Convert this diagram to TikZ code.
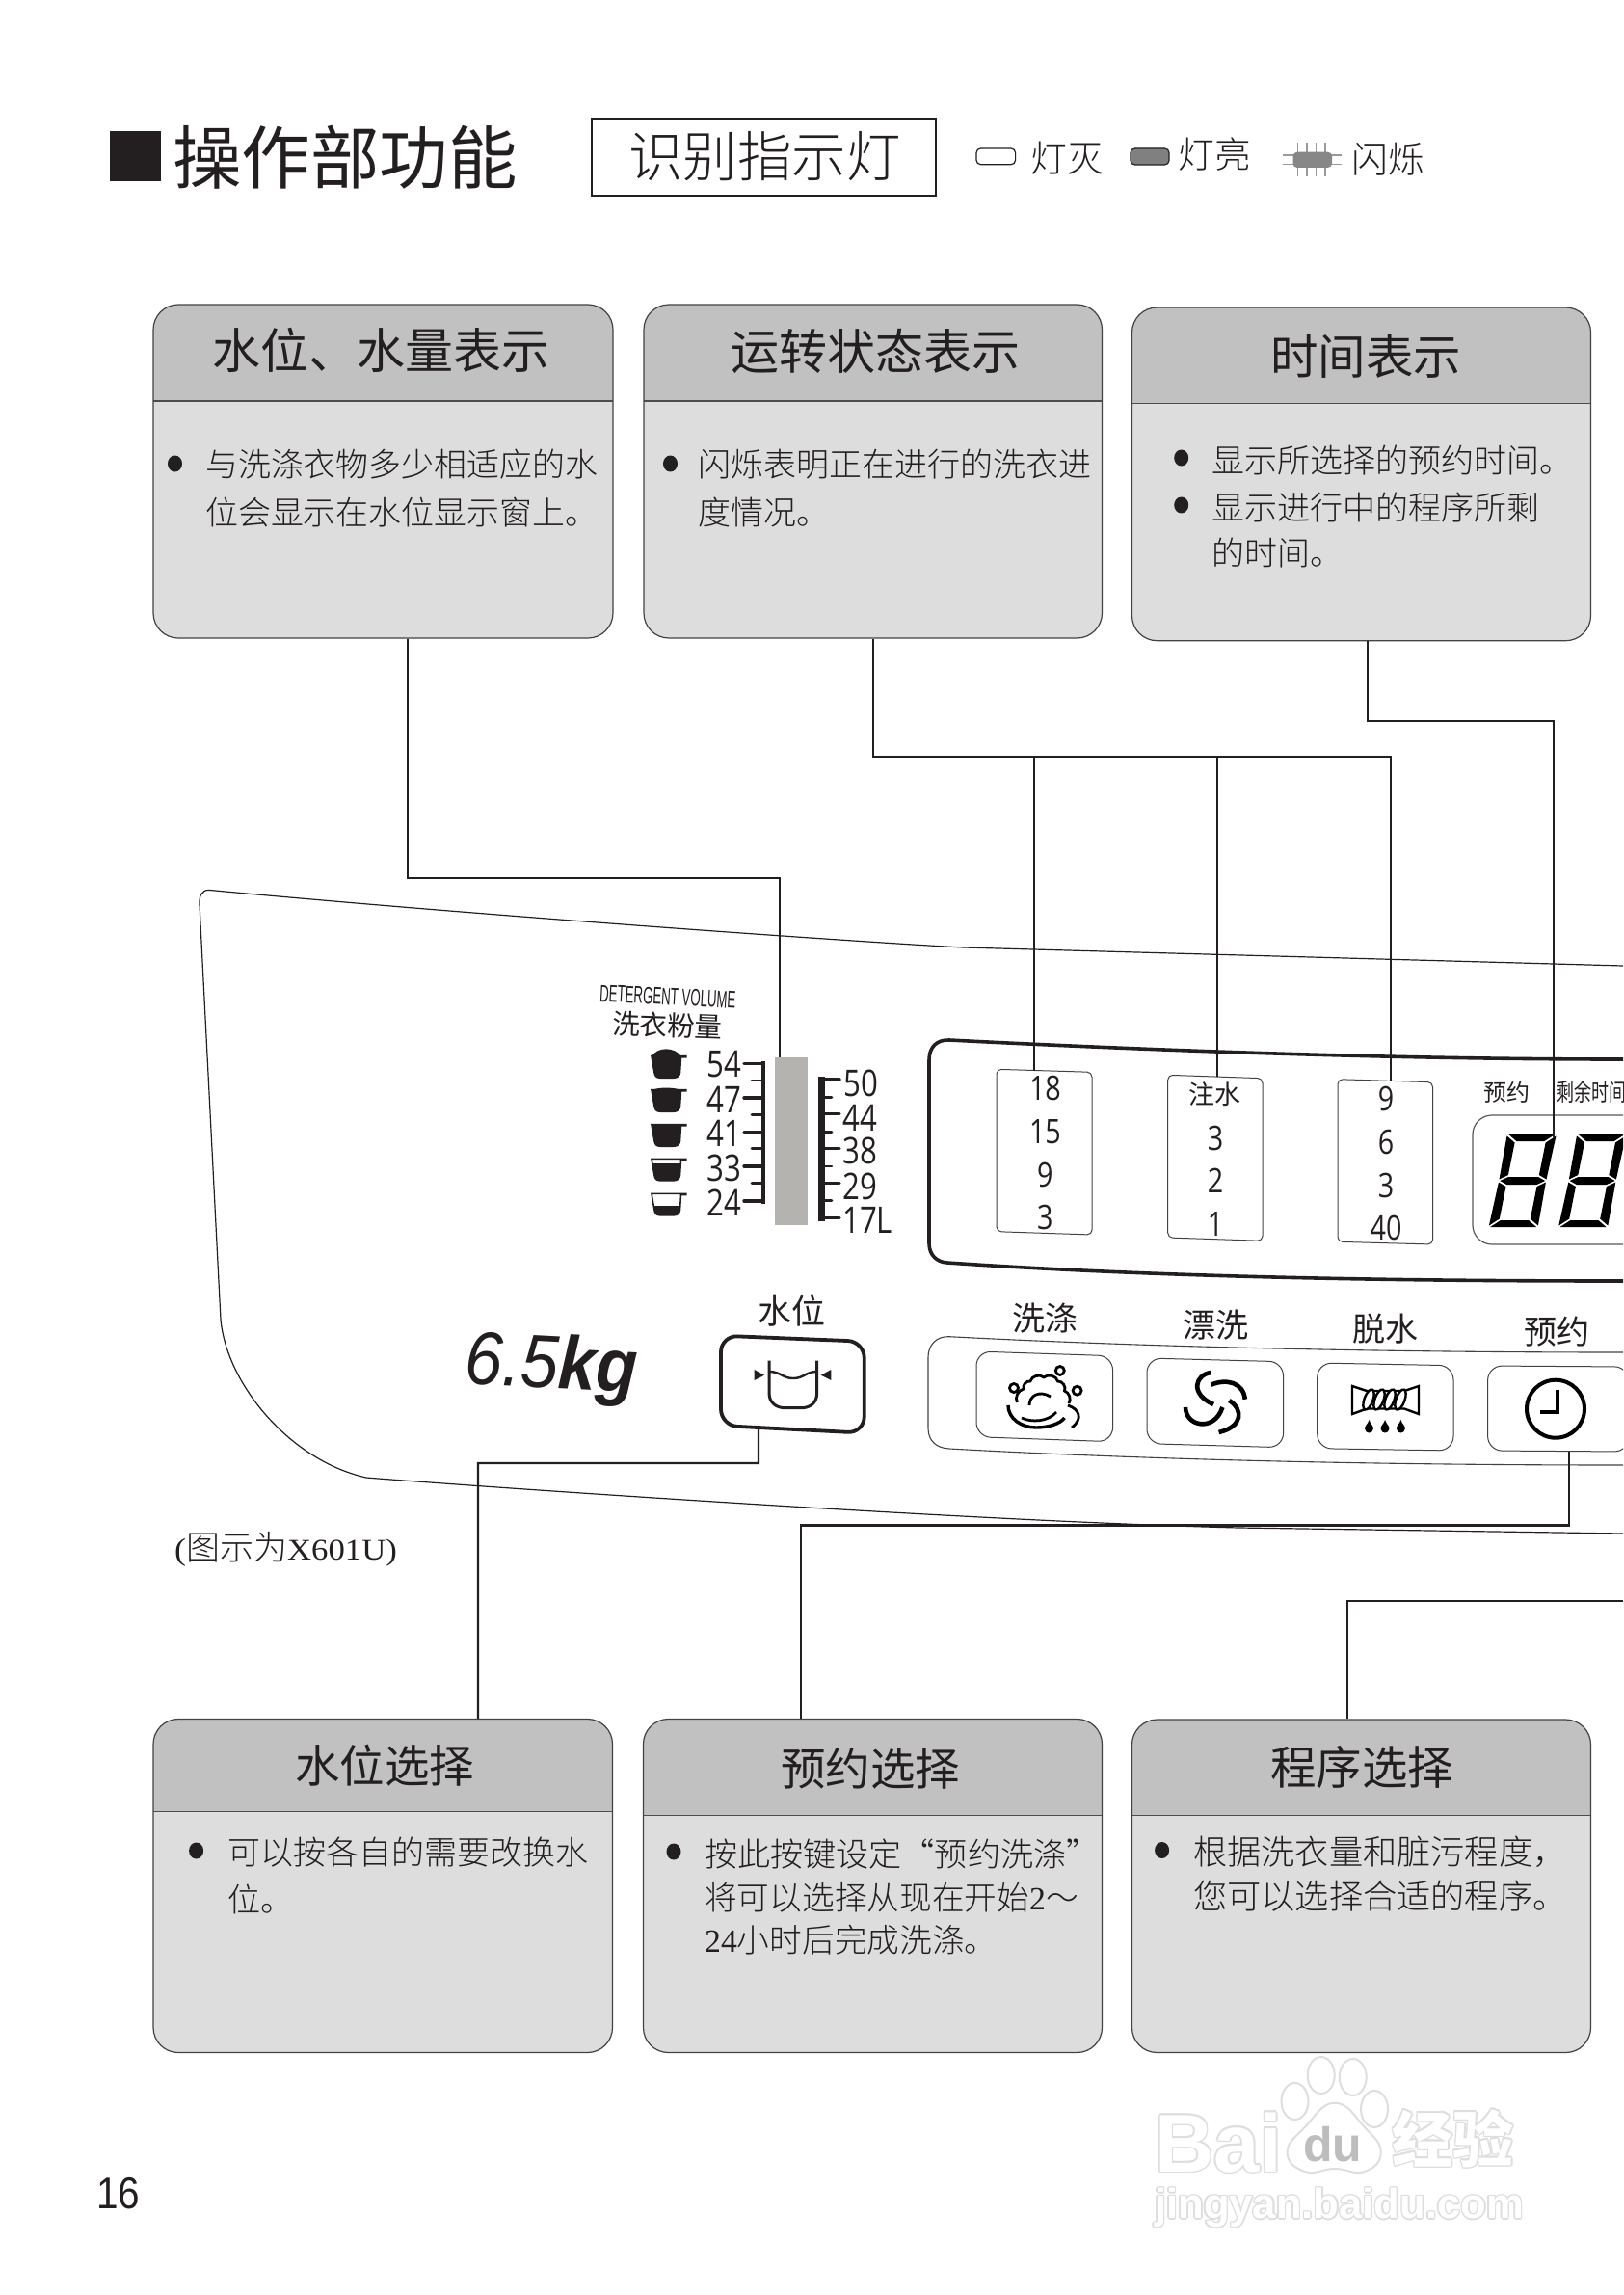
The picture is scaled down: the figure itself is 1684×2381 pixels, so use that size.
\documentclass[tikz,border=0pt]{standalone}
\usepackage{fontspec}
\setmainfont{Noto Sans CJK SC}
\IfFontExistsTF{Noto Sans CJK SC Light}{\newfontfamily\lt{Noto Sans CJK SC Light}}{\newfontfamily\lt{Noto Sans CJK SC}}
\newfontfamily\digf[FakeStretch=.82]{Open Sans}
\newfontfamily\arI[FakeStretch=.9]{Liberation Sans}
\newfontfamily\arN[FakeStretch=.53]{Liberation Sans}
\newfontfamily\ar{Liberation Sans}
\newfontfamily\ser{Liberation Serif}
\newfontfamily\serw[FakeStretch=1.12]{Liberation Serif}
\newfontfamily\nrw[FakeStretch=.72]{Noto Sans CJK SC}
\newfontfamily\pgn[FakeStretch=.88]{Liberation Sans}
\definecolor{ink}{HTML}{231F20}
\definecolor{hdr}{HTML}{C1C1C1}
\definecolor{bodyg}{HTML}{DDDDDD}
\definecolor{wmline}{HTML}{DEDEDE}
\definecolor{barg}{HTML}{B5B3B0}
\newcommand{\lab}[6]{\node[inner sep=0pt,text=ink,anchor=#2] (#1) at (#3,{#4+0.38*#5}) {\fontsize{#5pt}{#5pt}\selectfont #6};}
\newcommand{\infobox}[6]{\node[infob,minimum width={(#3-#2)*1pt},minimum height={(#5-#4)*1pt},
  path picture={\fill[hdr,sharp corners] (path picture bounding box.north west) rectangle ([yshift={-(#6-#4)*1pt}]path picture bounding box.north east);
  \draw[line width=1.2pt,ink!80,sharp corners] ([yshift={-(#6-#4)*1pt}]path picture bounding box.north west) -- ([yshift={-(#6-#4)*1pt}]path picture bounding box.north east);}]
  (#1) at ({(#2+#3)/2},{(#4+#5)/2}) {};}
\newcommand{\skewbox}[8]{\draw[#1,rounded corners=#8pt] (#2,#4) -- (#3,#5) -- (#3,#7) -- (#2,#6) -- cycle;}
\newcommand{\bul}[2]{\fill[ink] (#1,#2) ellipse [x radius=7.5,y radius=8.5];}
\newcommand{\cupbody}{(0,0) -- (35.7,0) -- (35.7,1.2) -- (30.5,1.2) -- (29.5,17) .. controls (29,20.5) and (27,22.5) .. (23,22.5) -- (9,22.5) .. controls (5,22.5) and (3.5,20.5) .. (3,17) -- cycle}
\newcommand{\mycup}[4]{\begin{scope}[shift={(#1,#2)}]
  \draw[line width=1.6pt,ink,fill=white] \cupbody;
  \begin{scope}\clip (-1,#3) rectangle (37,24); \fill[ink] \cupbody; \end{scope}
  \fill[ink] (0,0.5) .. controls (6,-#4) and (24,-#4) .. (31,0.5) -- cycle;
  \end{scope}}
\newcommand{\sevenseg}[2]{\begin{scope}[shift={(#1,#2)},xslant=.2]
  \fill[black] (1.5,-96) -- (49.5,-96) -- (40,-89) -- (11,-89) -- cycle;
  \fill[black] (1.5,0) -- (49.5,0) -- (40,-7) -- (11,-7) -- cycle;
  \fill[black] (2,-48) -- (10,-52) -- (41,-52) -- (49,-48) -- (41,-44) -- (10,-44) -- cycle;
  \fill[black] (0,-94.5) -- (9.5,-87.5) -- (9.5,-54) -- (1,-49.5) -- cycle;
  \fill[black] (51,-94.5) -- (41.5,-87.5) -- (41.5,-54) -- (50,-49.5) -- cycle;
  \fill[black] (0,-1.5) -- (9.5,-8.5) -- (9.5,-42) -- (1,-46.5) -- cycle;
  \fill[black] (51,-1.5) -- (41.5,-8.5) -- (41.5,-42) -- (50,-46.5) -- cycle;
  \end{scope}}
\newcommand{\wmtxt}[5]{\foreach \dx/\dy in {-1.6/0,1.6/0,0/-1.6,0/1.6,-1.1/-1.1,1.1/-1.1,-1.1/1.1,1.1/1.1}{\node[inner sep=0pt,anchor=base west,text=wmline] at ({#2+\dx},{#3+\dy}) {\fontsize{#4pt}{#4pt}\selectfont #5};}
  \node[inner sep=0pt,anchor=base west,text=white] (#1) at (#2,#3) {\fontsize{#4pt}{#4pt}\selectfont #5};}
\tikzset{
  infob/.style={draw=ink!85,line width=1.2pt,fill=bodyg,rounded corners=26pt,inner sep=0pt},
  wire/.style={draw=ink,line width=2.2pt,line join=miter},
  panelline/.style={draw=ink,line width=1.2pt},
  winb/.style={draw=ink!85,line width=1pt},
  btnb/.style={draw=ink!85,line width=1pt},
  icon/.style={draw=black,line width=2.8pt,line cap=butt},
  tickl/.style={draw=ink,line width=3.4pt,line cap=round},
  ticks/.style={draw=ink,line width=2.6pt,line cap=round},
  rays/.style={draw=black!40,line width=1.2pt},
  wmp/.style={draw=wmline,line width=2pt,fill=white},
}
\begin{document}
\begin{tikzpicture}[x=1pt,y=-1pt]
\clip (0,0) rectangle (1684,2381);
\fill[white] (0,0) rectangle (1684,2381);

% title
\fill[ink] (114,136) rectangle (167,188);
\lab{title}{base west}{179}{163.5}{71.5}{操作部功能}
\node[draw=ink,line width=1.3pt,minimum width=357pt,minimum height=80pt,inner sep=0pt] (idbox) at (792.5,163) {};
\lab{idtext}{base west}{652}{162}{56.5}{\lt 识别指示灯}

% legend
\draw[ink,line width=1.2pt,rounded corners=4.5pt] (1013,154) rectangle (1053.6,170.7);
\lab{lgA}{base west}{1069.5}{164}{37.8}{\lt 灯灭}
\draw[ink,line width=1.2pt,fill=black!50,rounded corners=4.5pt] (1173,154) rectangle (1213,171);
\lab{lgB}{base west}{1222}{160}{37.8}{\lt 灯亮}
\foreach \x in {1346.5,1356,1365.5,1375}{\draw[rays] (\x,148) -- (\x,183);}
\foreach \y in {161,170.7}{\draw[rays] (1331,\y) -- (1392,\y);}
\fill[black!47,rounded corners=4.5pt] (1341.5,157.7) rectangle (1382,174);
\lab{lgC}{base west}{1402}{165}{37.8}{\lt 闪烁}

% top boxes
\infobox{b1}{159}{636}{316}{662}{416}
\infobox{b2}{668}{1143.5}{316}{662}{416}
\infobox{b3}{1174.5}{1650.5}{319}{664.7}{418.5}
\lab{b1t}{base west}{220}{363}{50}{水位、水量表示}
\lab{b2t}{base west}{758}{364}{50}{运转状态表示}
\lab{b3t}{base west}{1318}{370}{49.5}{时间表示}
\bul{181.5}{481}
\lab{b1a}{base west}{213}{482}{33.9}{\lt 与洗涤衣物多少相适应的水}
\lab{b1b}{base west}{213}{532}{33.9}{\lt 位会显示在水位显示窗上。}
\bul{695.5}{481}
\lab{b2a}{base west}{724}{482}{34}{\lt 闪烁表明正在进行的洗衣进}
\lab{b2b}{base west}{724}{532}{34}{\lt 度情况。}
\bul{1225.7}{475}
\lab{b3a}{base west}{1257}{478}{34}{\lt 显示所选择的预约时间。}
\bul{1225.7}{524}
\lab{b3b}{base west}{1257}{527}{34}{\lt 显示进行中的程序所剩}
\lab{b3c}{base west}{1257}{574}{34}{\lt 的时间。}

% control panel outline
\draw[panelline] (218,923.5) .. controls (209,922.5) and (206.5,930) .. (207,938) -- (229,1369)
  .. controls (235,1435) and (300,1515) .. (380,1533)
  .. controls (480,1541) and (1000,1578) .. (1286,1585) -- (1684,1591);
\draw[panelline] (218,923.5) .. controls (500,950) and (900,978) .. (1000,983) -- (1684,1002);

% detergent scale
\node[inner sep=0pt,anchor=base west,rotate=-3,text=ink] (detA) at (621.7,1039) {\fontsize{25pt}{25pt}\selectfont\arN DETERGENT VOLUME};
\node[inner sep=0pt,anchor=base west,rotate=-2,text=ink] (detB) at (635,1072.5) {\fontsize{28.5pt}{28.5pt}\selectfont 洗衣粉量};
\node[fill=barg,minimum width=34pt,minimum height=174pt,inner sep=0pt] (wbar) at (821.3,1183.7) {};
\mycup{676}{1095.7}{-5}{10}
\mycup{676}{1130.7}{-5}{3}
\mycup{676}{1166.7}{-5}{0}
\mycup{676}{1202.3}{5}{0}
\mycup{676}{1238.3}{13}{0}
\draw[ink,line width=4pt] (792,1100.7) -- (792,1249.3);
\foreach \y in {1103.3,1139,1174.3,1210,1246}{\draw[tickl] (772,\y) -- (792,\y);}
\foreach \y in {1121,1156.7,1191.7,1227.7}{\draw[ticks] (780,\y) -- (792,\y);}
\draw[ink,line width=7pt] (852,1117) -- (852,1267);
\foreach \y in {1120,1155.7,1191.7,1227.3,1263.3}{\draw[tickl] (852,\y) -- (871,\y);}
\foreach \y in {1138.3,1174.3,1210,1245.7}{\draw[ticks] (852,\y) -- (863,\y);}
\lab{l54}{base}{751}{1103}{38}{\digf 54}
\lab{l47}{base}{751}{1140}{38}{\digf 47}
\lab{l41}{base}{751}{1175}{38}{\digf 41}
\lab{l33}{base}{751}{1211}{38}{\digf 33}
\lab{l24}{base}{751}{1247}{38}{\digf 24}
\lab{r50}{base west}{875}{1123}{38}{\digf 50}
\lab{r44}{base west}{874}{1159}{38}{\digf 44}
\lab{r38}{base west}{874}{1193}{38}{\digf 38}
\lab{r29}{base west}{874}{1230}{38}{\digf 29}
\lab{r17}{base west}{874}{1265}{38}{\digf 17L}

% display frame
\draw[ink,line width=3.6pt] (1684,1099) .. controls (1450,1099) and (1200,1090) .. (985,1079)
  .. controls (972,1078.5) and (964,1086) .. (964,1100) -- (964,1290)
  .. controls (964,1302) and (972,1309.5) .. (983,1310)
  .. controls (1200,1325) and (1450,1329) .. (1684,1329);
\skewbox{winb}{1034}{1133}{1109.3}{1112.3}{1277.7}{1281}{5}
\skewbox{winb}{1211.7}{1310}{1115.3}{1118.7}{1284}{1287.3}{5}
\skewbox{winb}{1388}{1486.5}{1119.7}{1122.7}{1288.3}{1291}{5}
\lab{wa1}{base}{1084.4}{1128.3}{35}{\digf 18}
\lab{wa2}{base}{1084.4}{1172.7}{35}{\digf 15}
\lab{wa3}{base}{1084.4}{1217.7}{35}{\digf 9}
\lab{wa4}{base}{1084.4}{1262.3}{35}{\digf 3}
\lab{wb1}{base}{1260.5}{1135.7}{27}{注水}
\lab{wb2}{base}{1261}{1180}{35}{\digf 3}
\lab{wb3}{base}{1261}{1224.3}{35}{\digf 2}
\lab{wb4}{base}{1261}{1269}{35}{\digf 1}
\lab{wc1}{base}{1438}{1139.3}{35}{\digf 9}
\lab{wc2}{base}{1438}{1184.3}{35}{\digf 6}
\lab{wc3}{base}{1438}{1229}{35}{\digf 3}
\lab{wc4}{base}{1438}{1273.3}{35}{\digf 40}
\lab{yy}{base west}{1539}{1133}{24}{预约}
\lab{syt}{base west}{1615}{1133}{25}{\nrw 剩余时间}
\draw[ink!75,line width=1.2pt,rounded corners=20pt] (1700,1157) -- (1528,1157) -- (1528,1291) -- (1700,1291);
\sevenseg{1544.6}{1273}
\sevenseg{1617}{1273}

% button bar
\draw[ink!85,line width=1.1pt] (1684,1403) .. controls (1450,1403) and (1200,1398) .. (985,1386.7)
  .. controls (972,1386) and (963,1395) .. (963,1408) -- (963,1482)
  .. controls (963,1495) and (972,1502.5) .. (985,1503)
  .. controls (1200,1515) and (1450,1520) .. (1684,1520);
\skewbox{btnb}{1013}{1154.6}{1402}{1406.7}{1490.7}{1495.7}{15}
\skewbox{btnb}{1190}{1331.6}{1409}{1412.7}{1497.7}{1501.7}{15}
\skewbox{btnb}{1366.7}{1508}{1414}{1416.7}{1502.7}{1505}{15}
\skewbox{btnb}{1543.6}{1690}{1417}{1418}{1505}{1506}{15}
\lab{bl1}{base}{1084}{1368}{34}{洗涤}
\lab{bl2}{base}{1261}{1375}{34}{漂洗}
\lab{bl3}{base}{1437}{1379}{34}{脱水}
\lab{bl4}{base}{1615}{1382}{34}{预约}
\lab{bl5}{base}{821}{1360}{35}{水位}

% wash icon
\draw[icon] (1099.8,1422) circle [radius=4.5];
\draw[icon] (1052,1440) circle [radius=4.5];
\draw[icon] (1117.6,1442.7) circle [radius=4.5];
\draw[icon] (1055.3,1455) to[bend left=50] (1062,1441) to[bend left=60] (1069,1433) to[bend left=60] (1083,1429) to[bend left=60] (1097.5,1433) to[bend left=60] (1104.5,1443) to[bend left=50] (1109,1456);
\draw[icon,line width=3.4pt] (1046,1458) .. controls (1046,1472) and (1060,1481) .. (1075,1481) .. controls (1088,1481) and (1100,1477) .. (1104.5,1471);
\draw[icon] (1060,1471) .. controls (1070,1476) and (1088,1475) .. (1096,1465);
\draw[icon] (1068,1458) .. controls (1068,1448) and (1078,1442) .. (1090,1449);
\draw[icon] (1108,1458) .. controls (1120,1462) and (1124,1472) .. (1112,1481);
% rinse icon
\draw[icon,line width=4.6pt] (1256.6,1424) .. controls (1240,1426) and (1234,1446) .. (1259,1457);
\draw[icon,line width=4.6pt] (1256.6,1436.7) .. controls (1272,1430) and (1290,1434) .. (1291.8,1451.7);
\draw[icon,line width=4.6pt] (1230,1460) .. controls (1230,1480) and (1260,1486) .. (1268.4,1460);
\draw[icon,line width=4.6pt] (1275.4,1453) .. controls (1290,1462) and (1290,1480) .. (1264.6,1486);
% spin icon
\draw[icon,line width=2.4pt] (1403,1438) -- (1403,1467) -- (1418,1461.5) -- (1457,1461.5) -- (1472,1467) -- (1472,1438) -- (1457,1443) -- (1418,1443) -- cycle;
\foreach \x in {1420,1431,1442,1453}{\draw[icon,line width=2.4pt,fill=white] (\x,1452) ellipse [x radius=4.5,y radius=11,rotate=-20];}
\foreach \x in {1420.5,1437,1453.4}{\begin{scope}[shift={(\x,1473)}]
  \fill[black] (0,0) .. controls (-1,4) and (-4.5,6) .. (-4.5,9) .. controls (-4.5,12) and (-2,13.5) .. (0,13.5) .. controls (2,13.5) and (4.5,12) .. (4.5,9) .. controls (4.5,6) and (1,4) .. (0,0) -- cycle;
\end{scope}}
% clock icon
\draw[black,line width=4pt] (1614,1461.7) circle [radius=30];
\draw[black,line width=4.4pt] (1615.7,1441.7) -- (1615.7,1465) -- (1598.4,1465);

% 6.5kg and water button
\node[inner sep=0pt,anchor=base west,rotate=-3,text=ink] (kgl) at (481,1435) {\fontsize{78pt}{78pt}\selectfont\arI\itshape 6.5{\bfseries kg}};
\skewbox{draw=ink,line width=3.8pt}{748}{896.7}{1385.7}{1391.7}{1479}{1486.7}{17}
\draw[ink,line width=3pt] (798,1411.7) -- (798,1445) .. controls (798,1456) and (806,1460.7) .. (815,1460.7) -- (831,1460.7) .. controls (840,1460.7) and (847.7,1456) .. (847.7,1445) -- (847.7,1411.7);
\draw[ink,line width=2.4pt] (798,1423) .. controls (810,1423) and (812,1430) .. (823,1430) .. controls (834,1430) and (836,1423) .. (847.7,1423);
\fill[ink] (782.7,1421) -- (782.7,1432) -- (793,1426.7) -- cycle;
\fill[ink] (862.3,1421) -- (862.3,1432) -- (851.7,1426.7) -- cycle;

\node[inner sep=0pt,anchor=base west,text=ink] (capt) at (181,1618) {\fontsize{32pt}{32pt}\selectfont\serw (\fontsize{35pt}{35pt}\selectfont\lt 图示为\fontsize{31pt}{31pt}\selectfont\serw X601U)};

% lower boxes
\infobox{bA}{159}{635.5}{1783.5}{2129.5}{1879.5}
\infobox{bB}{667.5}{1143.5}{1783.5}{2129.5}{1883.5}
\infobox{bC}{1174.5}{1650.5}{1784}{2129.5}{1883.8}
\lab{bAt}{base west}{306}{1832}{46.5}{水位选择}
\lab{bBt}{base west}{810}{1835}{46.5}{预约选择}
\lab{bCt}{base west}{1318}{1833}{47.5}{程序选择}
\bul{203.6}{1920}
\lab{bAa}{base west}{236}{1922}{34}{\lt 可以按各自的需要改换水}
\lab{bAb}{base west}{236}{1971}{34}{\lt 位。}
\bul{699}{1921}
\lab{bBa}{base west}{731}{1924}{34.1}{\lt 按此按键设定“预约洗涤”}
\lab{bBb}{base west}{731}{1969}{33.7}{\lt 将可以选择从现在开始{\ser 2}～}
\lab{bBc}{base west}{731}{2013}{33.7}{{\ser 24}\lt 小时后完成洗涤。}
\bul{1205.6}{1919.5}
\lab{bCa}{base west}{1238}{1921}{35.2}{\lt 根据洗衣量和脏污程度，}
\lab{bCb}{base west}{1238}{1967}{35.2}{\lt 您可以选择合适的程序。}

% connectors
\coordinate (k1) at (809,911);
\draw[wire] ([xshift=25.2pt]b1.south) |- (k1) -- ([xshift=-12.3pt]wbar.north);
\coordinate (j1) at (1073,785);
\coordinate (j2) at (1263,785);
\coordinate (j3) at (1443,785);
\coordinate (w1t) at (1073,1110.5);
\coordinate (w2t) at (1263,1117);
\coordinate (w3t) at (1443,1121.5);
\draw[wire] (b2.south) |- (j3) -- (w3t);
\draw[wire] (j1) -- (w1t);
\draw[wire] (j2) -- (w2t);
\coordinate (k3) at (1612,748);
\coordinate (segt) at (1612,1180);
\draw[wire] ([xshift=6.5pt]b3.south) |- (k3) -- (segt);
\coordinate (wlb) at (787,1483);
\coordinate (k4) at (496,1518);
\draw[wire] (wlb) |- (k4) -- ([xshift=98.7pt]bA.north);
\coordinate (pb) at (1628,1506);
\coordinate (k5a) at (1628,1582.5);
\coordinate (k5b) at (830.7,1582.5);
\draw[wire] (pb) -- (k5a) -- (k5b) -- ([xshift=-74.8pt]bB.north);
\coordinate (kr) at (1684,1661);
\coordinate (k6) at (1398,1661);
\draw[wire] (kr) -- (k6) -- ([xshift=-14.5pt]bC.north);

% page number
\lab{pg}{base west}{100}{2274}{46}{\pgn 16}

% watermark
\draw[wmp] (1370.7,2153) ellipse [x radius=14,y radius=19];
\draw[wmp] (1403.7,2155) ellipse [x radius=14,y radius=19];
\draw[wmp] (1343.5,2180) ellipse [x radius=14,y radius=19];
\draw[wmp] (1426,2188) ellipse [x radius=14,y radius=19];
\draw[wmp] plot[smooth cycle,tension=.8] coordinates {(1385,2181.7) (1354,2206.7) (1335.6,2233) (1354,2253) (1385,2250) (1415.7,2253) (1432.7,2233) (1415.7,2206.7)};
\wmtxt{wmB}{1198}{2253}{85}{\ar\bfseries Bai}
\node[inner sep=0pt,anchor=base west,text=wmline!85!black] (wmdu) at (1352,2242) {\fontsize{50pt}{50pt}\selectfont\ar\bfseries du};
\wmtxt{wmC}{1444.6}{2243}{63}{\bfseries 经验}
\wmtxt{wmD}{1198}{2301.7}{43.6}{\ar\bfseries jingyan.baidu.com}
\end{tikzpicture}
\end{document}
